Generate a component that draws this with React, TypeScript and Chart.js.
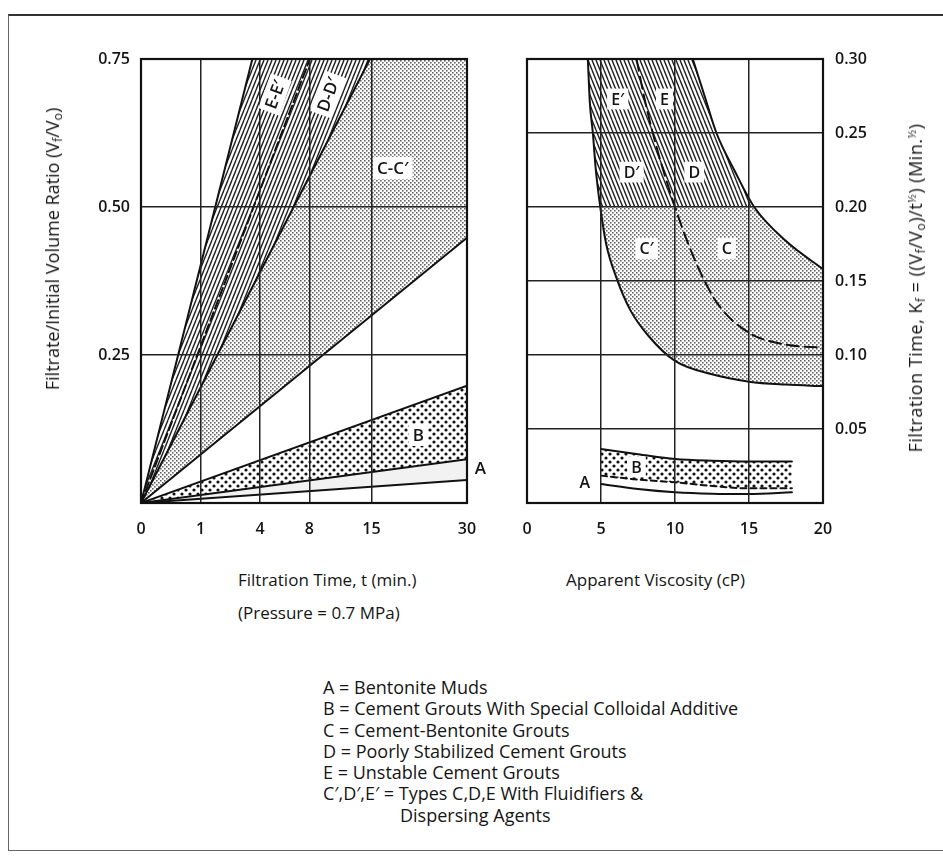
import React, { useEffect, useRef } from "react";
import { Chart, registerables } from "chart.js";

Chart.register(...registerables);

// ---------------- Left panel: filtrate ratio vs filtration time ----------------
// x axis is drawn in sqrt(t); values below are in minutes / ratio
const leftTimeTicks = [0, 1, 4, 8, 15, 30];
const leftRatioTicks = [0, 0.25, 0.5, 0.75];
const leftLineEUpper = [[0, 0], [3.5, 0.75], [30, 0.75]];
const leftLineEDSplit = [[0, 0], [8.05, 0.75]];
const leftLineDC = [[0, 0], [14.8, 0.75], [30, 0.75]];
const leftLineCLower = [[0, 0], [30, 0.448]];
const leftLineBUpper = [[0, 0], [30, 0.198]];
const leftLineAB = [[0, 0], [30, 0.074]];
const leftLineALower = [[0, 0], [30, 0.039]];
const leftLabelText = ["E-E\u2032", "D-D\u2032", "C-C\u2032", "B", "A"];
const leftLabelTime = [5.07, 9.9, 17.9, 21.7, 32.5];
const leftLabelRatio = [0.69, 0.69, 0.566, 0.115, 0.059];

// ---------------- Right panel: K vs apparent viscosity ----------------
const rightViscTicks = [0, 5, 10, 15, 20];
const rightKTicks = [0, 0.05, 0.1, 0.15, 0.2, 0.25, 0.3];
const rightSplitK = 0.2;
const rightCurveLeft = [
  [4.11, 0.3], [4.25, 0.27], [4.45, 0.25], [4.65, 0.225], [4.95, 0.2], [5.35, 0.175],
  [6.05, 0.152], [7.0, 0.13], [8.2, 0.113], [10, 0.096], [12.5, 0.087], [15, 0.082],
  [17.5, 0.08], [20, 0.079],
];
const rightCurveMid = [
  [7.4, 0.3], [7.9, 0.275], [8.5, 0.25], [9.2, 0.225], [10.0, 0.2], [10.9, 0.175],
  [11.9, 0.152], [13.0, 0.133], [15, 0.115], [17.5, 0.107], [20, 0.105],
];
const rightCurveRight = [
  [11.2, 0.3], [12.0, 0.275], [12.8, 0.25], [14.0, 0.225], [15.35, 0.2], [17.5, 0.177], [20, 0.158],
];
const rightBUpper = [[5, 0.0365], [7.5, 0.033], [10, 0.0297], [12.5, 0.0285], [15, 0.028], [17.9, 0.028]];
const rightBLower = [[5, 0.0185], [7.5, 0.0158], [10, 0.014], [12.5, 0.0115], [15, 0.0099], [17.9, 0.0099]];
const rightALower = [[5, 0.0128], [7.5, 0.0095], [10, 0.0073], [12.5, 0.0063], [15, 0.0061], [17.9, 0.0072]];
const rightLabelText = ["E\u2032", "E", "D\u2032", "D", "C\u2032", "C", "B", "A"];
const rightLabelVisc = [6.13, 9.29, 7.07, 11.3, 8.08, 13.5, 7.4, 3.9];
const rightLabelK = [0.273, 0.273, 0.2236, 0.2236, 0.172, 0.172, 0.0243, 0.0142];

const legendLines = [
  "A = Bentonite Muds",
  "B = Cement Grouts With Special Colloidal Additive",
  "C = Cement-Bentonite Grouts",
  "D = Poorly Stabilized Cement Grouts",
  "E = Unstable Cement Grouts",
  "C\u2032,D\u2032,E\u2032 = Types C,D,E With Fluidifiers &",
  "Dispersing Agents",
];

const FONT = "'Open Sans', 'DejaVu Sans', sans-serif";
const INK = "#151515";

function tile(w: number, h: number, draw: (g: CanvasRenderingContext2D) => void) {
  const c = document.createElement("canvas");
  c.width = w;
  c.height = h;
  draw(c.getContext("2d")!);
  return c;
}
function hatchTile(dir: number) {
  return tile(4, 10, (g) => {
    g.strokeStyle = "#222";
    g.lineWidth = 1.4;
    g.beginPath();
    for (const dx of [-4, 0, 4]) {
      if (dir > 0) { g.moveTo(dx, 10); g.lineTo(dx + 4, 0); }
      else { g.moveTo(dx, 0); g.lineTo(dx + 4, 10); }
    }
    g.stroke();
  });
}
function fineDotTile() {
  return tile(4, 4, (g) => {
    g.fillStyle = "#666";
    g.fillRect(0, 0, 1.6, 1.6);
    g.fillRect(2, 2, 1.6, 1.6);
  });
}
function coarseDotTile() {
  return tile(8, 8, (g) => {
    g.fillStyle = "#111";
    for (const [cx, cy] of [[2, 2], [6, 6]]) {
      g.beginPath();
      g.arc(cx, cy, 1.6, 0, Math.PI * 2);
      g.fill();
    }
  });
}

type LabelItem = { text: string; x: number; y: number; angle: number; box: boolean };

function labelPlugin(items: LabelItem[], size: number) {
  return {
    id: "regionLabels",
    afterDraw(chart: any) {
      const { ctx } = chart;
      const xs = chart.scales.x;
      const ys = chart.scales.y;
      ctx.save();
      ctx.font = `600 ${size}px ${FONT}`;
      ctx.textAlign = "center";
      ctx.textBaseline = "middle";
      for (const it of items) {
        const px = xs.getPixelForValue(it.x);
        const py = ys.getPixelForValue(it.y);
        ctx.save();
        ctx.translate(px, py);
        ctx.rotate((it.angle * Math.PI) / 180);
        const w = ctx.measureText(it.text).width;
        if (it.box) {
          ctx.fillStyle = "#fff";
          ctx.fillRect(-w / 2 - 4, -size * 0.65, w + 8, size * 1.3);
        }
        ctx.fillStyle = INK;
        ctx.fillText(it.text, 0, 1);
        ctx.restore();
      }
      ctx.restore();
    },
  };
}

const framePlugin = {
  id: "frame",
  afterDraw(chart: any) {
    const { ctx, chartArea: a } = chart;
    ctx.save();
    ctx.strokeStyle = "#111";
    ctx.lineWidth = 2.2;
    ctx.strokeRect(a.left, a.top, a.right - a.left, a.bottom - a.top);
    ctx.restore();
  },
};

const tickFont = { size: 16, weight: "600" as any, family: FONT };

export default function App() {
  const leftRef = useRef<HTMLCanvasElement>(null);
  const rightRef = useRef<HTMLCanvasElement>(null);

  useEffect(() => {
    Chart.defaults.font.family = FONT;
    Chart.defaults.color = INK;
    const lc = leftRef.current!;
    const rc = rightRef.current!;
    const lctx = lc.getContext("2d")!;
    const hatchL = lctx.createPattern(hatchTile(1), "repeat")!;
    const fineL = lctx.createPattern(fineDotTile(), "repeat")!;
    const coarseL = lctx.createPattern(coarseDotTile(), "repeat")!;
    const rctx = rc.getContext("2d")!;
    const coarseR = rctx.createPattern(coarseDotTile(), "repeat")!;
    const hatchRTile = hatchTile(-1);
    const fineRTile = fineDotTile();

    const sq = (pts: number[][]) => pts.map(([t, v]) => ({ x: Math.sqrt(t), y: v }));
    const xy = (pts: number[][]) => pts.map(([x, y]) => ({ x, y }));
    const line = { borderColor: "#111", borderWidth: 2, pointRadius: 0, borderCapStyle: "round" as const };

    const leftItems: LabelItem[] = leftLabelText.map((text, i) => ({
      text,
      x: Math.sqrt(leftLabelTime[i]),
      y: leftLabelRatio[i],
      angle: i < 2 ? -70 : 0,
      box: i < 4,
    }));

    const c1 = new Chart(lc, {
      type: "line",
      data: {
        datasets: [
          { ...line, data: sq(leftLineEUpper), fill: 2, backgroundColor: hatchL, tension: 0 },
          { ...line, data: sq(leftLineEDSplit), fill: false, borderDash: [9, 4], tension: 0 },
          { ...line, data: sq(leftLineDC), fill: 3, backgroundColor: fineL, tension: 0 },
          { ...line, data: sq(leftLineCLower), fill: false, tension: 0 },
          { ...line, data: sq(leftLineBUpper), fill: 5, backgroundColor: coarseL, tension: 0 },
          { ...line, data: sq(leftLineAB), fill: 6, backgroundColor: "rgba(0,0,0,0.05)", tension: 0 },
          { ...line, data: sq(leftLineALower), fill: false, tension: 0 },
        ] as any,
      },
      options: {
        responsive: false,
        animation: false,
        events: [],
        layout: { padding: { left: 0, top: 59, right: 33, bottom: 17 } },
        plugins: {
          legend: { display: false },
          tooltip: { enabled: false },
          filler: { drawTime: "beforeDatasetsDraw", propagate: false } as any,
        },
        scales: {
          x: {
            type: "linear",
            min: 0,
            max: Math.sqrt(30),
            afterBuildTicks: (s: any) => { s.ticks = leftTimeTicks.map((t) => ({ value: Math.sqrt(t) })); },
            afterFit: (s: any) => { s.height = 40; },
            grid: { color: "#222", lineWidth: 1.5, drawTicks: false, z: 1 },
            border: { display: false },
            ticks: {
              padding: 17, font: tickFont, color: INK, autoSkip: false, maxRotation: 0,
              callback: (_v: any, i: number) => String(leftTimeTicks[i]),
            },
          },
          y: {
            type: "linear",
            min: 0,
            max: 0.75,
            afterBuildTicks: (s: any) => { s.ticks = leftRatioTicks.map((v) => ({ value: v })); },
            afterFit: (s: any) => { s.width = 141; },
            grid: { color: "#222", lineWidth: 1.5, drawTicks: false, z: 1 },
            border: { display: false },
            ticks: {
              padding: 11, font: tickFont, color: INK,
              callback: (_v: any, i: number) => (leftRatioTicks[i] === 0 ? "" : leftRatioTicks[i].toFixed(2)),
            },
          },
        },
      },
      plugins: [framePlugin, labelPlugin(leftItems, 17)],
    });

    const splitFill = (c: any) => {
      const chart = c.chart;
      const ys = chart.scales && chart.scales.y;
      if (!ys || !chart.chartArea) return "rgba(0,0,0,0.2)";
      const ySplit = ys.getPixelForValue(rightSplitK);
      const cv = document.createElement("canvas");
      cv.width = chart.width;
      cv.height = chart.height;
      const g = cv.getContext("2d")!;
      g.fillStyle = g.createPattern(hatchRTile, "repeat")!;
      g.fillRect(0, 0, cv.width, ySplit);
      g.fillStyle = g.createPattern(fineRTile, "repeat")!;
      g.fillRect(0, ySplit, cv.width, cv.height - ySplit);
      return chart.ctx.createPattern(cv, "no-repeat");
    };

    const rightItems: LabelItem[] = rightLabelText.map((text, i) => ({
      text,
      x: rightLabelVisc[i],
      y: rightLabelK[i],
      angle: 0,
      box: i < 7,
    }));

    const mono = { cubicInterpolationMode: "monotone" as const };
    const c2 = new Chart(rc, {
      type: "line",
      data: {
        datasets: [
          { ...line, ...mono, data: xy(rightCurveRight), fill: "end", backgroundColor: "#ffffff" },
          { ...line, ...mono, data: xy(rightCurveMid), fill: false, borderDash: [12, 6] },
          { ...line, ...mono, data: xy(rightCurveLeft), fill: "end", backgroundColor: splitFill },
          { ...line, ...mono, data: xy(rightBUpper), fill: 4, backgroundColor: coarseR },
          { ...line, ...mono, data: xy(rightBLower), fill: false, borderDash: [6, 4] },
          { ...line, ...mono, data: xy(rightALower), fill: false },
        ] as any,
      },
      options: {
        responsive: false,
        animation: false,
        events: [],
        layout: { padding: { left: 27, top: 59, right: 0, bottom: 17 } },
        plugins: {
          legend: { display: false },
          tooltip: { enabled: false },
          filler: { drawTime: "beforeDatasetsDraw", propagate: false } as any,
        },
        scales: {
          x: {
            type: "linear",
            min: 0,
            max: 20,
            afterBuildTicks: (s: any) => { s.ticks = rightViscTicks.map((v) => ({ value: v })); },
            afterFit: (s: any) => { s.height = 40; },
            grid: { color: "#222", lineWidth: 1.5, drawTicks: false, z: 1 },
            border: { display: false },
            ticks: {
              padding: 17, font: tickFont, color: INK, autoSkip: false, maxRotation: 0,
              callback: (_v: any, i: number) => String(rightViscTicks[i]),
            },
          },
          y: {
            type: "linear",
            position: "right",
            min: 0,
            max: 0.3,
            afterBuildTicks: (s: any) => { s.ticks = rightKTicks.map((v) => ({ value: v })); },
            afterFit: (s: any) => { s.width = 120; },
            grid: { color: "#222", lineWidth: 1.5, drawTicks: false, z: 1 },
            border: { display: false },
            ticks: {
              padding: 12, font: tickFont, color: INK,
              callback: (_v: any, i: number) => (rightKTicks[i] === 0 ? "" : rightKTicks[i].toFixed(2)),
            },
          },
        },
      },
      plugins: [framePlugin, labelPlugin(rightItems, 16)],
    });

    return () => {
      c1.destroy();
      c2.destroy();
    };
  }, []);

  const subStyle: React.CSSProperties = { fontSize: "0.68em", verticalAlign: "-0.28em", lineHeight: 0 };
  const supStyle: React.CSSProperties = { fontSize: "0.62em", verticalAlign: "0.55em", lineHeight: 0 };
  const rot: React.CSSProperties = {
    position: "absolute",
    transform: "translate(-50%, -50%) rotate(-90deg)",
    whiteSpace: "nowrap",
    fontSize: 18,
    lineHeight: "22px",
  };
  const title: React.CSSProperties = {
    position: "absolute", fontSize: 17, lineHeight: "20px", whiteSpace: "nowrap",
  };

  return (
    <div
      style={{
        position: "absolute", left: 0, top: 0, width: 943, height: 856, overflow: "hidden",
        background: "#fff", fontFamily: FONT, color: INK,
      }}
    >
      <div
        style={{
          position: "absolute", left: 8, top: 14, width: 980, height: 834,
          borderLeft: "1.5px solid #666", borderTop: "2px solid #333", borderBottom: "1.5px solid #666",
        }}
      />
      <canvas ref={leftRef} width={500} height={560} style={{ position: "absolute", left: 0, top: 0 }} />
      <canvas ref={rightRef} width={443} height={560} style={{ position: "absolute", left: 500, top: 0 }} />

      <div style={{ ...rot, left: 52, top: 249 }}>
        Filtrate/Initial Volume Ratio (V<span style={subStyle}>f</span>/V<span style={subStyle}>o</span>)
      </div>
      <div style={{ ...rot, left: 915, top: 288, letterSpacing: "0.5px" }}>
        Filtration Time, K<span style={subStyle}>f</span> = ((V<span style={subStyle}>f</span>/V
        <span style={subStyle}>o</span>)/t<span style={supStyle}>½</span>) (Min.<span style={supStyle}>½</span>)
      </div>

      <div style={{ ...title, left: 238, top: 570 }}>Filtration Time, t (min.)</div>
      <div style={{ ...title, left: 238, top: 603 }}>(Pressure = 0.7 MPa)</div>
      <div style={{ ...title, left: 566, top: 570 }}>Apparent Viscosity (cP)</div>

      <div style={{ position: "absolute", left: 323, top: 677, fontSize: 18, lineHeight: "21.3px", whiteSpace: "nowrap" }}>
        {legendLines.map((l, i) => (
          <div key={i} style={{ paddingLeft: i === legendLines.length - 1 ? 77 : 0 }}>
            {l}
          </div>
        ))}
      </div>
    </div>
  );
}
